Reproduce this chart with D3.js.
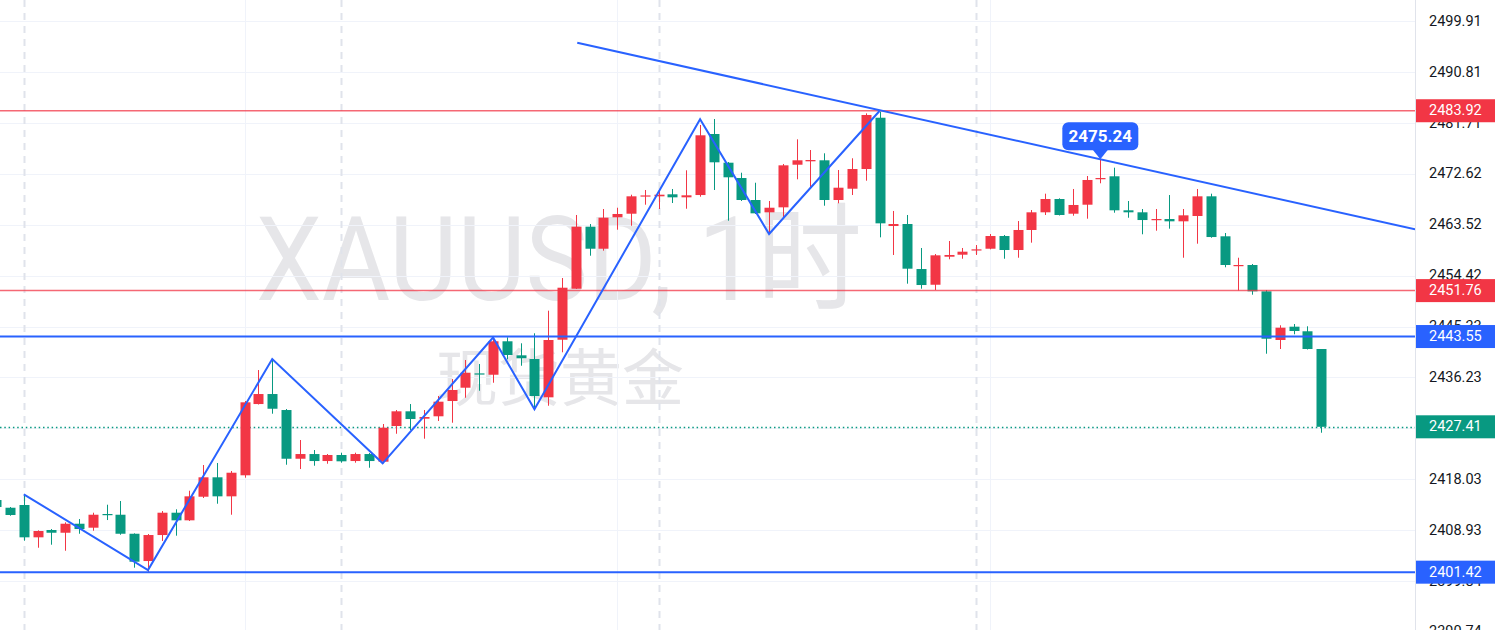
<!DOCTYPE html>
<html><head><meta charset="utf-8">
<script src="https://cdn.jsdelivr.net/npm/d3@7"></script>
<style>html,body{margin:0;padding:0;background:#fff;overflow:hidden}svg{display:block}</style>
</head><body>
<svg id="c" width="1495" height="630"></svg>
<script>
// ---- data (bar index -1 .. 95, hourly XAUUSD) ----
const startIndex = -1;
const opens = [2414.32,2412.94,2413.43,2407.65,2408.96,2408.47,2410.08,2409.37,2411.82,2411.69,2408.29,2403.41,2408.06,2412.05,2410.69,2414.91,2418.38,2414.98,2418.74,2431.48,2433.27,2430.41,2421.70,2422.54,2421.29,2422.37,2421.29,2422.54,2421.17,2427.55,2430.18,2428.86,2429.29,2432.02,2434.40,2436.96,2436.72,2442.70,2440.19,2439.53,2432.68,2442.98,2452.10,2463.19,2459.25,2464.87,2465.51,2468.68,2468.62,2468.98,2468.44,2468.85,2479.76,2474.63,2471.89,2467.96,2465.76,2466.65,2474.27,2474.88,2475.06,2467.96,2469.98,2473.50,2482.67,2463.31,2463.67,2455.62,2452.81,2457.82,2458.18,2458.97,2459.25,2461.52,2459.02,2462.60,2465.76,2468.14,2465.51,2467.12,2471.77,2472.20,2466.12,2465.76,2464.38,2464.56,2464.15,2465.10,2468.62,2461.47,2456.23,2456.34,2451.63,2442.93,2445.31,2444.49,2441.32];
const closes = [2413.07,2411.64,2407.65,2408.78,2408.47,2410.08,2409.13,2411.69,2411.71,2408.29,2403.29,2408.06,2412.05,2410.69,2414.98,2418.38,2414.98,2419.20,2431.79,2433.27,2430.64,2421.70,2422.54,2421.29,2422.37,2421.24,2422.54,2421.29,2427.25,2430.18,2428.80,2429.16,2431.90,2433.99,2437.08,2436.85,2442.70,2440.25,2439.66,2432.92,2442.93,2452.28,2463.19,2459.25,2464.80,2465.46,2468.62,2468.78,2468.91,2468.44,2468.80,2479.53,2474.70,2472.02,2467.96,2465.58,2466.58,2474.16,2475.06,2475.11,2467.96,2470.16,2473.50,2483.16,2463.79,2463.67,2455.68,2452.76,2458.07,2458.13,2458.72,2459.14,2461.52,2459.02,2462.60,2465.76,2468.14,2465.28,2467.07,2471.54,2471.89,2466.12,2465.76,2464.38,2464.56,2464.15,2465.22,2468.62,2461.34,2456.34,2456.34,2451.63,2443.16,2445.13,2444.54,2441.32,2427.41];
const highs = [2414.50,2413.07,2415.39,2408.90,2409.13,2410.33,2410.92,2412.05,2413.48,2414.14,2408.36,2408.24,2412.35,2412.66,2415.98,2420.58,2420.94,2419.51,2432.02,2437.56,2439.53,2430.59,2425.05,2423.26,2422.54,2422.78,2422.78,2422.72,2427.91,2430.41,2431.48,2430.41,2432.92,2435.95,2439.35,2438.64,2443.41,2443.41,2442.34,2444.13,2448.17,2454.01,2465.28,2463.67,2466.35,2466.58,2468.91,2469.75,2469.93,2469.93,2473.27,2481.37,2482.44,2474.75,2472.84,2471.05,2467.78,2474.40,2478.81,2476.90,2476.31,2473.32,2475.42,2483.46,2483.75,2466.00,2465.28,2459.38,2458.30,2460.63,2459.38,2459.91,2461.88,2461.70,2464.20,2466.17,2469.09,2468.26,2469.93,2472.25,2475.24,2473.74,2467.78,2466.35,2466.35,2468.85,2466.35,2469.93,2469.09,2462.06,2457.64,2456.52,2451.87,2445.56,2445.79,2445.38,2441.32];
const lows = [2412.89,2411.51,2407.04,2405.79,2406.33,2405.25,2408.29,2408.83,2410.74,2408.11,2402.22,2401.39,2406.99,2407.94,2410.57,2414.68,2413.66,2411.69,2418.31,2431.40,2429.75,2420.63,2419.86,2420.45,2420.81,2420.99,2420.99,2420.09,2420.88,2426.17,2426.84,2425.28,2428.45,2428.14,2432.61,2433.86,2435.29,2439.48,2438.33,2430.41,2431.18,2440.73,2452.05,2458.00,2458.90,2462.65,2463.36,2467.12,2466.35,2467.42,2466.40,2468.55,2469.75,2464.26,2467.78,2465.46,2462.01,2464.56,2471.66,2470.05,2466.94,2467.37,2468.85,2471.41,2461.29,2458.13,2453.00,2452.10,2451.87,2457.36,2457.46,2458.13,2459.14,2457.46,2457.64,2460.33,2465.28,2465.19,2465.15,2464.62,2470.95,2465.69,2464.79,2461.83,2462.47,2462.83,2457.64,2460.15,2461.22,2455.93,2451.78,2451.03,2440.48,2441.32,2443.95,2441.23,2426.35];

const tickValues = [2499.91,2490.81,2481.71,2472.62,2463.52,2454.42,2445.33,2436.23,2427.13,2418.03,2408.93,2399.84,2390.74];
const tickLabels = ["2499.91","2490.81","2481.71","2472.62","2463.52","2454.42","2445.33","2436.23","2427.13","2418.03","2408.93","2399.84","2390.74"];

const redLevels = [2483.92, 2451.76];
const blueLevels = [2443.55, 2401.42];
const lastPrice = 2427.41;

// zigzag pivots [bar index, price]
const zigzag = [[1,2415.34],[10,2401.80],[19,2439.53],[27,2420.88],[35,2443.37],[38,2430.54],[50,2482.39],[55,2461.88],[63,2483.87]];
// trend line anchors [bar index, price]
const trendA = [41.1, 2496.07];
const trendB = [79, 2475.24];
const calloutIndex = 79, calloutPrice = 2475.24, calloutText = "2475.24";

// session separators (dashed) and time grid (solid), by bar index
const sessionBreaks = [1, 24, 47, 70];
const timeGrid = [17, 44, 71];

const watermark1 = "XAUUSD, 1时";
const watermark2 = "现货黄金";

// ---- drawing ----
const W = 1495, H = 630, plotW = 1415;
const UP = "#f23645", DOWN = "#089981", BLUE = "#2962ff";
const svg = d3.select("#c");
const x = d3.scaleLinear().domain([-0.725, 101.8]).range([0, plotW]);
const y = d3.scaleLinear().domain([2391.08, 2503.72]).range([H, 0]);
const bar = x(1) - x(0);
const bodyW = Math.round(bar * 0.72);

const candles = d3.range(opens.length).map(k => ({i: k + startIndex, o: opens[k], c: closes[k], h: highs[k], l: lows[k]}));

svg.append("rect").attr("width", W).attr("height", H).attr("fill", "#fff");
const plot = svg.append("g");
plot.append("clipPath").attr("id","pc").append("rect").attr("width", plotW).attr("height", H);
const g = plot.append("g").attr("clip-path","url(#pc)");

// watermark
g.append("text").attr("x", 256).attr("y", 300)
  .attr("font-family", "Roboto, 'Noto Sans CJK SC', sans-serif").attr("font-size", 116)
  .attr("fill", "#e6e6e9").attr("textLength", 606).attr("lengthAdjust", "spacingAndGlyphs")
  .text(watermark1);
g.append("text").attr("x", 560).attr("y", 401).attr("text-anchor", "middle")
  .attr("font-family", "'Noto Sans CJK SC', sans-serif").attr("font-size", 62)
  .attr("fill", "#e6e6e9").text(watermark2);

// horizontal grid
g.selectAll("line.hg").data(tickValues).join("line")
  .attr("x1", 0).attr("x2", plotW)
  .attr("y1", d => Math.round(y(d)) + 0.5).attr("y2", d => Math.round(y(d)) + 0.5)
  .attr("stroke", "#f0f3fa").attr("stroke-width", 1);
// vertical grid
g.selectAll("line.vg").data(timeGrid).join("line")
  .attr("x1", d => Math.round(x(d)) + 0.5).attr("x2", d => Math.round(x(d)) + 0.5)
  .attr("y1", 0).attr("y2", H).attr("stroke", "#f0f3fa").attr("stroke-width", 1);
g.selectAll("line.sb").data(sessionBreaks).join("line")
  .attr("x1", d => Math.round(x(d)) + 0.5).attr("x2", d => Math.round(x(d)) + 0.5)
  .attr("y1", 0).attr("y2", H).attr("stroke", "#e0e3eb").attr("stroke-width", 2)
  .attr("stroke-dasharray", "7,6");

// last price dotted line
g.append("line").attr("x1", 0).attr("x2", plotW)
  .attr("y1", Math.round(y(lastPrice)) + 0.5).attr("y2", Math.round(y(lastPrice)) + 0.5)
  .attr("stroke", DOWN).attr("stroke-width", 1.5).attr("stroke-dasharray", "1.5,2.8");

// candles
const cg = g.append("g");
cg.selectAll("line.w").data(candles).join("line")
  .attr("x1", d => Math.round(x(d.i)) + 0.5).attr("x2", d => Math.round(x(d.i)) + 0.5)
  .attr("y1", d => y(d.h)).attr("y2", d => y(d.l))
  .attr("stroke", d => d.c >= d.o ? UP : DOWN).attr("stroke-width", 1);
cg.selectAll("rect.b").data(candles).join("rect")
  .attr("x", d => Math.round(x(d.i)) + 0.5 - bodyW / 2)
  .attr("width", bodyW)
  .attr("y", d => y(Math.max(d.o, d.c)))
  .attr("height", d => Math.max(1.2, Math.abs(y(d.o) - y(d.c))))
  .attr("fill", d => d.c >= d.o ? UP : DOWN);

// level lines
g.selectAll("line.rl").data(redLevels).join("line")
  .attr("x1", 0).attr("x2", plotW).attr("y1", d => y(d)).attr("y2", d => y(d))
  .attr("stroke", UP).attr("stroke-opacity", 0.75).attr("stroke-width", 1.5);
g.selectAll("line.bl").data(blueLevels).join("line")
  .attr("x1", 0).attr("x2", plotW).attr("y1", d => y(d)).attr("y2", d => y(d))
  .attr("stroke", BLUE).attr("stroke-width", 2);

// zigzag
g.append("path").datum(zigzag)
  .attr("d", d3.line().x(d => x(d[0])).y(d => y(d[1])))
  .attr("fill", "none").attr("stroke", BLUE).attr("stroke-width", 2).attr("stroke-linejoin", "miter");

// trend line, extended to the right edge
const slope = (trendB[1] - trendA[1]) / (trendB[0] - trendA[0]);
const xEnd = x.domain()[1];
const trendPts = [trendA, [xEnd, trendA[1] + slope * (xEnd - trendA[0])]];
g.append("path").datum(trendPts)
  .attr("d", d3.line().x(d => x(d[0])).y(d => y(d[1])))
  .attr("fill", "none").attr("stroke", BLUE).attr("stroke-width", 2);

// callout
const cx = x(calloutIndex), cyTip = y(calloutPrice);
const boxW = 76, boxH = 28, boxBottom = cyTip - 9;
const co = svg.append("g");
co.append("rect").attr("x", cx - boxW / 2).attr("y", boxBottom - boxH).attr("width", boxW).attr("height", boxH)
  .attr("rx", 6).attr("fill", BLUE);
co.append("path").attr("d", `M${cx - 8},${boxBottom - 1} L${cx + 8},${boxBottom - 1} L${cx},${cyTip} Z`).attr("fill", BLUE);
co.append("text").attr("x", cx).attr("y", boxBottom - boxH / 2).attr("text-anchor", "middle")
  .attr("dominant-baseline", "central").attr("font-family", "Roboto, sans-serif").attr("font-weight", "bold")
  .attr("font-size", 17).attr("fill", "#fff").text(calloutText);

// right price axis
const ax = svg.append("g");
ax.append("line").attr("x1", plotW + 0.5).attr("x2", plotW + 0.5).attr("y1", 0).attr("y2", H)
  .attr("stroke", "#e0e3eb").attr("stroke-width", 1);
ax.selectAll("text.t").data(tickValues).join("text")
  .attr("x", 1429).attr("y", d => y(d)).attr("dominant-baseline", "central")
  .attr("font-family", "Roboto, sans-serif").attr("font-size", 14.5).attr("fill", "#131722")
  .text((d, k) => tickLabels[k]);

const boxes = [
  ...redLevels.map(v => ({v, c: UP})),
  ...blueLevels.map(v => ({v, c: BLUE})),
  {v: lastPrice, c: DOWN}
];
const bx = ax.selectAll("g.pb").data(boxes).join("g");
bx.append("rect").attr("x", plotW + 1).attr("width", W - plotW - 1)
  .attr("y", d => y(d.v) - 11.5).attr("height", 23).attr("fill", d => d.c);
bx.append("text").attr("x", 1429).attr("y", d => y(d.v)).attr("dominant-baseline", "central")
  .attr("font-family", "Roboto, sans-serif").attr("font-size", 14.5).attr("fill", "#fff")
  .text(d => d.v.toFixed(2));
</script>
</body></html>
